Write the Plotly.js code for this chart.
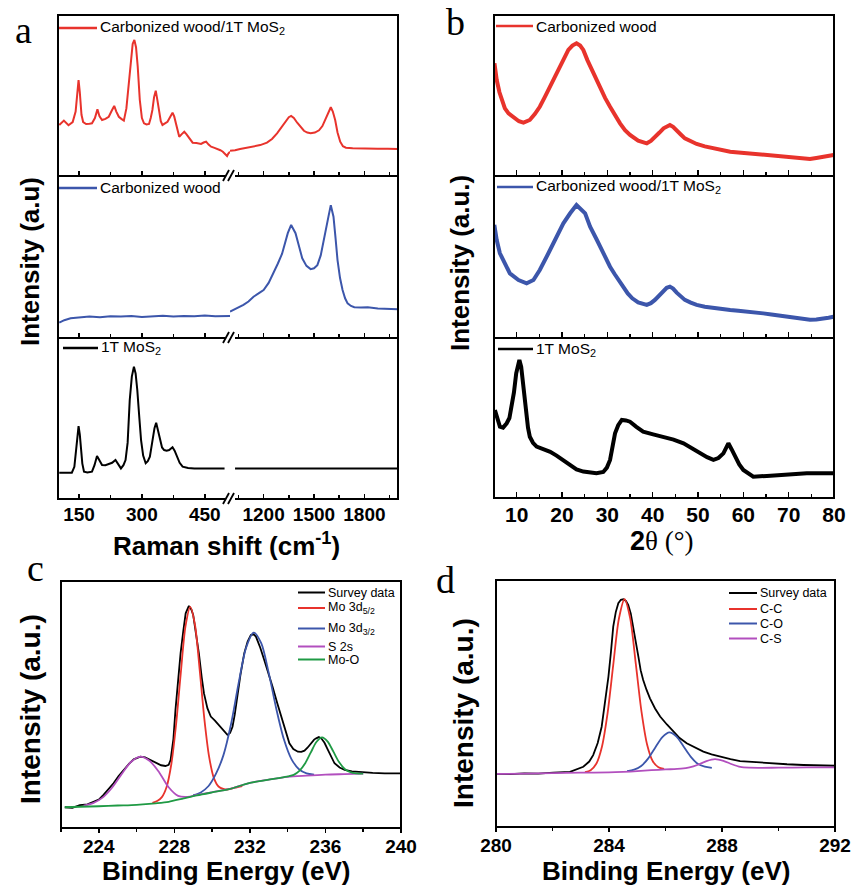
<!DOCTYPE html>
<html><head><meta charset="utf-8">
<script src="https://cdn.plot.ly/plotly-3.0.1.min.js"></script>
<style>html,body{margin:0;padding:0;background:#fff}</style>
</head><body><div id="chart" style="width:855px;height:886px"></div>
<script>
// ---------------- DATA ----------------
// Panel a : Raman (x = Raman shift cm-1, y = intensity a.u.), broken axis
const aLowTicks = [150, 300, 450];
const aLowMinor = [225, 375];
const aHighTicks = [1200, 1500, 1800];
const aHighMinor = [1050, 1350, 1650, 1950];

const ramanCwMosLow = [[103,31.7],[114,34.4],[125,31.5],[135,33.5],[142,40],[146,52],[149,59.6],[152,52],[156,38],[160,33.5],[167,32.3],[175,32.5],[181,32.7],[188,36],[194,41.4],[199,37],[205,34.8],[213,35.5],[221,36.8],[228,40.5],[234,43.5],[239,40],[245,36.8],[251,35.5],[257,34.4],[263,42],[269,59.6],[274,74],[278,82],[282,84.5],[286,80],[290,68],[295,47.2],[300,36],[305,32.7],[311,32],[317,32.3],[321,36],[325,41],[329,49],[333,53],[337,47],[341,41],[345,34],[349,31.7],[355,33],[361,33.7],[367,36.5],[373,39.3],[377,37],[381,32.7],[385,28],[389,24.4],[395,26],[401,27.5],[406,26],[410,24.4],[416,22],[421,20.7],[430,20.5],[441,19.9],[447,20.8],[453,21.3],[459,19.5],[465,18.2],[473,17.5],[481,16.8],[487,16],[493,15.1],[498,14],[503,12.4],[506,14],[510,15.1]];
const ramanCwMosHigh = [[1000,15.7],[1030,16.0],[1060,16.8],[1100,17.5],[1140,18.2],[1180,19.2],[1220,20.7],[1250,23],[1280,26.5],[1305,30],[1330,33.7],[1350,36.5],[1364,37.3],[1380,36],[1400,33.1],[1420,30.5],[1440,28.1],[1460,27],[1480,26.5],[1505,27],[1530,28.4],[1550,31],[1570,35.8],[1585,40],[1600,42.7],[1612,40],[1626,34.8],[1640,27],[1656,21.3],[1672,18.5],[1690,17.6],[1730,17.2],[1780,17],[1830,17.1],[1880,17],[1940,16.9],[2000,16.8]];
const ramanCwLow = [[103,9.5],[115,11.0],[130,12.2],[150,12.5],[175,13.2],[200,12.8],[225,13.4],[250,13.2],[275,13.6],[300,13.0],[325,13.5],[350,13.8],[375,13.2],[400,13.6],[425,13.4],[450,13.9],[475,13.5],[500,13.6],[510,13.6]];
const ramanCwHigh = [[1000,16.3],[1040,18.3],[1080,20.4],[1110,22.5],[1140,25.5],[1170,27.5],[1200,29.6],[1230,34],[1260,40],[1285,46],[1310,52],[1330,59],[1344,64.7],[1364,69.8],[1378,67.5],[1390,64.7],[1410,57],[1430,49.2],[1455,44.5],[1480,42.5],[1500,43],[1520,45],[1540,51],[1560,60.5],[1575,68],[1586,74.9],[1600,82],[1610,77],[1616,74.9],[1628,62],[1640,48.1],[1655,37],[1670,29.6],[1685,24.5],[1700,21.4],[1720,19.8],[1740,19],[1780,18.8],[1820,19],[1880,18.2],[1940,17.9],[2000,17.7]];
const ramanMosLow = [[103,16.3],[120,16.3],[133,16.3],[139,20],[143,30.4],[146,40],[149,45.3],[152,40],[155,30.4],[158,22],[162,17],[170,16.5],[181,17],[187,21],[193,26.7],[198,24],[205,21.1],[213,21],[221,21.7],[229,22.5],[237,24.2],[244,21.5],[250,19],[256,21],[261,24.2],[266,35],[271,61.5],[276,76],[281,82.2],[285,78],[289,67.7],[294,50],[298,36.6],[303,27],[309,22.2],[314,23.5],[319,26.3],[325,36],[330,44],[334,47.4],[338,43],[343,36.6],[348,32],[353,30.4],[359,30],[365,30.4],[369,31.5],[373,32.1],[378,30],[383,26.3],[390,22.5],[397,20.1],[410,19.3],[425,19],[450,19],[475,19],[497,19]];
const ramanMosHigh = [[1030,19],[1200,19],[1400,19],[1600,19],[1800,19],[2000,19]];

// Panel b : XRD (x = 2theta deg)
const bTicks = [10, 20, 30, 40, 50, 60, 70, 80];
const bMinor = [5, 15, 25, 35, 45, 55, 65, 75];
const xrdCw = [[5.1,70],[5.6,59.6],[6.2,52],[6.7,47.2],[7.4,42],[8.2,38.9],[9.6,35.8],[10.5,34],[11.5,33.1],[12.2,33.8],[12.9,34.8],[14,38.5],[15.1,43],[16.2,49],[17.4,55.5],[18.5,61.5],[19.6,67.9],[20.5,73.5],[21.4,78.3],[22.3,81],[23.2,82.4],[24,81],[24.7,78.3],[25.6,72],[26.6,65.8],[27.5,60],[28.4,54.5],[29.5,48.5],[30.6,43],[31.7,37.5],[32.8,32.7],[33.9,28.5],[35,25.5],[36.8,21.9],[38.7,20.3],[39.6,21.8],[40.5,24],[41.5,27],[42.4,29.6],[43.1,31],[43.8,31.7],[44.5,30.5],[45.3,28.6],[46.2,25.8],[47.1,23.4],[48.4,21.5],[49.7,19.9],[51.5,18.4],[53.4,17.2],[55.2,16.1],[57.1,15.1],[58.9,14.6],[60.7,14.1],[62.5,13.8],[64.4,13.5],[66.2,13],[68.1,12.4],[70,11.7],[71.8,11],[73.2,10.8],[74.7,10.6],[76.1,11.2],[77.6,12],[78.8,12.3],[79.9,13]];
const xrdCwMos = [[5.07,69.8],[5.6,60.5],[6.3,52.3],[7.4,46.1],[8.5,39.9],[10.4,35.8],[12.2,33.8],[13.7,35.8],[15.1,42],[17,52.3],[18.8,62.5],[20.3,70.8],[21.8,77],[23.2,82.1],[25.1,77],[26.2,68.7],[27.7,60.5],[29.1,52.3],[30.6,44],[31.6,39.5],[32.6,35],[33.5,31],[34.5,27.5],[35.5,24.5],[36.8,22],[38.7,20.4],[39.6,21.5],[40.5,23.5],[41.5,26.5],[42.4,29],[43.1,31],[43.8,31.7],[44.5,30.5],[45.3,28],[46.2,25.5],[47.1,23.5],[48.4,21.8],[49.7,20.4],[51.5,19.3],[53.4,18.5],[55.2,17.8],[57.1,17.3],[58.9,16.8],[60.7,16.4],[62.5,15.8],[64.4,15.2],[66.2,14.5],[68.1,13.7],[70,13],[71.8,12.2],[73.2,11.7],[74.7,11.3],[76.1,11.4],[77.6,11.8],[78.8,12.5],[79.9,13.1]];
const xrdMos = [[5.2,55],[5.7,50],[6.3,44.6],[7,44],[7.8,46.7],[8.4,50],[8.9,57],[9.4,66],[9.9,77.9],[10.3,84],[10.6,86.3],[11,82],[11.3,73.8],[11.7,62],[12.1,52.9],[12.5,44],[12.9,38.3],[13.6,34.5],[14.4,32.1],[15.9,30.5],[17.4,28.9],[18.8,26.5],[20.3,23.8],[21.7,21],[23.2,17.9],[24.7,16.5],[26.2,15.8],[27.6,15.5],[29.1,16.3],[29.9,19],[30.6,23.8],[31.2,32],[31.7,40.4],[32.4,45.5],[33.2,48.8],[34.1,48.5],[35,47.7],[36.4,44.5],[37.9,41.5],[40.1,39.8],[42.4,38.3],[44.6,36.5],[46.8,34.2],[48.7,31],[50.5,27.9],[52,25.5],[53.4,23.8],[54.5,25],[55.6,27.9],[56.2,31.5],[56.7,34.2],[57.4,30.5],[58.2,25.8],[59.1,21],[60,17.5],[61.1,15],[62.2,13.3],[65.2,13.8],[68.1,14.4],[71,14.9],[74,15.4],[77,15.4],[79.9,15.4]];

// Panel c : Mo 3d XPS (x = binding energy eV)
const cTicks = [224, 228, 232, 236, 240];
const cMinor = [222, 226, 230, 234, 238];
const cSurvey = [[222.2,8.4],[222.6,8.2],[223.0,9.3],[223.4,9.6],[223.72,10.6],[224.0,11.5],[224.25,13.4],[224.5,15.5],[224.78,18.1],[225.05,21],[225.31,23.5],[225.6,26],[225.85,27.8],[226.2,28.9],[226.45,28.6],[226.65,27.8],[226.9,26.8],[227.09,25.9],[227.3,25.4],[227.53,25.1],[227.7,25.6],[227.8,27.5],[227.95,36],[228.06,47.8],[228.2,60],[228.33,70.7],[228.47,79.5],[228.6,86.9],[228.77,89.9],[228.9,88.5],[229.0,86.2],[229.15,79],[229.3,70.7],[229.45,61],[229.57,54.5],[229.75,48.5],[229.93,45.1],[230.15,43.5],[230.37,41.7],[230.6,39.5],[230.81,37.7],[230.95,38.5],[231.08,41],[231.2,46],[231.34,54.5],[231.5,62],[231.7,70.7],[231.88,75.5],[232.05,78.1],[232.2,78.4],[232.32,77.5],[232.55,73],[232.76,68],[233.0,62.5],[233.2,57.2],[233.45,50.5],[233.65,45.1],[233.9,38.5],[234.09,34.3],[234.3,32],[234.54,30.9],[234.72,30.8],[234.89,31.3],[235.05,32.5],[235.24,34.3],[235.4,35.8],[235.51,36.3],[235.65,36.8],[235.78,36.3],[235.95,34.5],[236.13,31.6],[236.3,28.8],[236.48,26.2],[236.75,24.5],[237.02,23.5],[237.4,22.9],[237.9,22.5],[238.5,22.3],[239.14,22.1],[239.6,22.2],[240,22.1]];
const cMo3d52 = [[226.84,10.2],[227.09,10.9],[227.34,12.5],[227.59,16.6],[227.84,25.8],[228.09,41.7],[228.34,62.6],[228.59,81.6],[228.84,89.5],[229.09,82.4],[229.34,64.2],[229.59,44.1],[229.84,28.9],[230.09,20.3],[230.34,16.8],[230.59,15.8],[230.84,15.6],[231.2,16.3],[231.6,17.0]];
const cMo3d32 = [[229.0,13.3],[229.4,14.4],[229.8,16.9],[230.2,21.9],[230.6,29.5],[231.0,42],[231.4,58.5],[231.8,73],[232.2,79.1],[232.6,74.8],[233.0,62.7],[233.4,48.2],[233.8,35.9],[234.2,27.9],[234.6,23.8],[235.0,22.1],[235.4,21.6]];
const cS2s = [[223.2,9.1],[223.7,10.1],[224.2,12.3],[224.7,16.3],[225.2,21.7],[225.7,26.7],[226.2,28.9],[226.7,27.1],[227.2,22.5],[227.7,16.5],[228.2,13.0],[228.7,12.6],[229.2,13.4],[229.7,14.1],[231.0,15.9],[232.0,18.3],[233.0,19.6],[234.0,20.7],[235.0,21.2],[236.0,21.6],[237.0,21.8],[238.0,22.0]];
const cMoO = [[222.2,8.4],[223.0,8.6],[224.0,8.8],[225.0,9.1],[226.0,9.4],[227.0,10.0],[227.7,10.6],[228.5,12.0],[229.2,13.2],[230.0,14.4],[230.9,15.7],[231.9,18.1],[232.7,19.2],[233.5,20.2],[234.02,20.9],[234.32,21.5],[234.62,23.1],[234.92,26.1],[235.22,30.5],[235.52,34.8],[235.82,36.7],[236.12,35.0],[236.42,30.9],[236.72,26.7],[237.02,23.9],[237.32,22.6],[237.62,22.1],[238.0,22.0]];

// Panel d : C 1s XPS
const dTicks = [280, 284, 288, 292];
const dMinor = [282, 286, 290];
const dSurvey = [[280,21.5],[280.5,21.4],[281,21.7],[281.5,21.6],[282.03,22],[282.62,22.3],[283.09,24.4],[283.3,26.5],[283.44,29.1],[283.6,34],[283.74,40.6],[283.86,50],[283.98,60.9],[284.07,71],[284.15,81.1],[284.24,87],[284.33,90.6],[284.42,92],[284.51,92.2],[284.6,91.5],[284.68,89.9],[284.77,86.5],[284.86,81.1],[284.95,75],[285.04,69],[285.12,63.5],[285.21,59.5],[285.33,55.5],[285.45,52.1],[285.63,48],[285.81,44.7],[286.05,41.5],[286.28,38.6],[286.5,36],[286.75,33.9],[287.05,32],[287.34,30.5],[287.63,29.4],[287.93,28.5],[288.3,27.5],[288.64,26.7],[289.2,26.2],[289.7,25.8],[290.3,25.4],[290.88,25.1],[291.4,25.0],[292,24.8]];
const dCC = [[283.15,22.2],[283.35,23.0],[283.55,25.6],[283.75,32.5],[283.95,46.1],[284.15,65.6],[284.35,84.3],[284.55,92.2],[284.75,84.5],[284.95,65.9],[285.15,46.7],[285.35,33.3],[285.55,26.6],[285.75,24.2],[285.95,23.5]];
const dCO = [[284.64,22.6],[284.89,23.2],[285.14,24.7],[285.39,27.8],[285.64,32.2],[285.89,36.4],[286.14,38.3],[286.39,36.6],[286.64,32.6],[286.89,28.5],[287.14,25.6],[287.39,24.4],[287.64,23.9]];
const dCS = [[280,21.5],[281,21.6],[282,21.8],[283,22.0],[284,22.1],[284.5,22.3],[285,22.6],[285.5,23.0],[286,23.3],[286.55,23.6],[286.85,24.1],[287.15,25.2],[287.45,26.7],[287.75,27.5],[288.05,26.8],[288.35,25.4],[288.65,24.3],[288.95,24.0],[290,24.0],[291,24.1],[292,24.1]];

// ---------------- LAYOUT HELPERS ----------------
const W = 855, H = 886;
const fx = p => p / W;
const fy = p => 1 - p / H;
const RED = '#e8332c', BLUE = '#3c56ab', BLACK = '#000000', PURPLE = '#b24fbe', GREEN = '#1f9a44';
const SANS = '"Liberation Sans", Arial, sans-serif';
const SERIF = '"Liberation Serif", "Times New Roman", serif';

const layout = {
  width: W, height: H, margin: {l:0, r:0, t:0, b:0},
  paper_bgcolor: '#ffffff', plot_bgcolor: 'rgba(0,0,0,0)', showlegend: false,
  font: {family: SANS, color: '#000'}, shapes: [], annotations: []
};
const nm = (p, id) => id === 1 ? p : p + id;

function xAxis(id, x0, x1, yid, range, major, minor, o) {
  layout[nm('xaxis', id)] = {
    domain: [fx(x0), fx(x1)], anchor: nm('y', yid), range: range,
    tickmode: 'array', tickvals: major, ticktext: major.map(String),
    ticks: o.ticks, ticklen: o.len, tickwidth: 1.5, tickcolor: '#000',
    minor: {tickmode: 'array', tickvals: minor, ticks: o.ticks, ticklen: o.minorLen, tickwidth: 1.5, tickcolor: '#000', showgrid: false},
    showticklabels: o.labels, tickfont: {family: SANS, size: o.fontSize, weight: 'bold', color: '#000'},
    ticklabelstandoff: o.standoff || 0,
    showline: false, showgrid: false, zeroline: false, fixedrange: true
  };
}
function yAxis(id, y0, y1, xid) {
  layout[nm('yaxis', id)] = {
    domain: [fy(y1), fy(y0)], anchor: nm('x', xid), range: [0, 100],
    showticklabels: false, ticks: '', showgrid: false, zeroline: false, showline: false, fixedrange: true
  };
}
const traces = [];
function addLine(pairs, xid, yid, color, width, smooth) {
  traces.push({
    type: 'scatter', mode: 'lines', x: pairs.map(p => p[0]), y: pairs.map(p => p[1]),
    xaxis: nm('x', xid), yaxis: nm('y', yid), hoverinfo: 'skip',
    line: smooth ? {color: color, width: width, shape: 'spline', smoothing: 0.8} : {color: color, width: width}
  });
}
function rect(x0, y0, x1, y1) {
  layout.shapes.push({type: 'rect', xref: 'paper', yref: 'paper', x0: fx(x0), x1: fx(x1), y0: fy(y0), y1: fy(y1), line: {color: '#000', width: 2}, fillcolor: 'rgba(0,0,0,0)', layer: 'above'});
}
function seg(x0, y0, x1, y1, color, width) {
  layout.shapes.push({type: 'line', xref: 'paper', yref: 'paper', x0: fx(x0), x1: fx(x1), y0: fy(y0), y1: fy(y1), line: {color: color, width: width}, layer: 'above'});
}
function text(x, y, t, size, o) {
  o = o || {};
  layout.annotations.push({
    xref: 'paper', yref: 'paper', x: fx(x), y: fy(y), text: t, showarrow: false,
    xanchor: o.xanchor || 'left', yanchor: o.yanchor || 'middle', textangle: o.angle || 0,
    font: {family: o.family || SANS, size: size, color: '#000', weight: o.weight || 'normal'}
  });
}

// ---------------- PANEL a ----------------
const rowsA = [[15, 176], [176, 338], [338, 499]];
const aSeries = [[ramanCwMosLow, ramanCwMosHigh, RED], [ramanCwLow, ramanCwHigh, BLUE], [ramanMosLow, ramanMosHigh, BLACK]];
rowsA.forEach((r, i) => {
  const xl = 2 * i + 1, xr = 2 * i + 2, yid = i + 1;
  const o = {ticks: 'inside', len: 5, minorLen: 4, labels: i === 2, fontSize: 19, standoff: 2};
  xAxis(xl, 58, 230, yid, [100, 510], aLowTicks, aLowMinor, o);
  xAxis(xr, 230, 398, yid, [1000, 2000], aHighTicks, aHighMinor, o);
  yAxis(yid, r[0], r[1], xl);
  addLine(aSeries[i][0], xl, yid, aSeries[i][2], 2);
  addLine(aSeries[i][1], xr, yid, aSeries[i][2], 2);
});
rect(58, 15, 398, 499);
seg(58, 176, 398, 176, '#000', 2);
seg(58, 338, 398, 338, '#000', 2);
[176, 338, 499].forEach(y => {
  seg(225, y, 235, y, '#fff', 4);
  seg(223, y + 5, 229, y - 6, '#000', 1.8);
  seg(228, y + 5, 234, y - 6, '#000', 1.8);
});

// ---------------- PANEL b ----------------
const rowsB = [[15, 176], [176, 338], [338, 498]];
const bSeries = [[xrdCw, RED], [xrdCwMos, BLUE], [xrdMos, BLACK]];
rowsB.forEach((r, i) => {
  const xid = 7 + i, yid = 4 + i;
  xAxis(xid, 494, 834, yid, [5, 80], bTicks, bMinor, {ticks: 'inside', len: 6, minorLen: 4, labels: i === 2, fontSize: 21, standoff: 2});
  yAxis(yid, r[0], r[1], xid);
  addLine(bSeries[i][0], xid, yid, bSeries[i][1], 4);
});
rect(494, 15, 834, 498);
seg(494, 176, 834, 176, '#000', 2);
seg(494, 338, 834, 338, '#000', 2);

// ---------------- PANEL c ----------------
xAxis(10, 61, 401, 7, [222, 240], cTicks, cMinor, {ticks: 'outside', len: 4, minorLen: 3, labels: true, fontSize: 19, standoff: -3});
yAxis(7, 581, 828, 10);
addLine(cSurvey, 10, 7, BLACK, 1.8);
addLine(cMo3d52, 10, 7, RED, 1.8, true);
addLine(cMo3d32, 10, 7, BLUE, 1.8, true);
addLine(cS2s, 10, 7, PURPLE, 1.8, true);
addLine(cMoO, 10, 7, GREEN, 1.8, true);
rect(61, 581, 401, 828);

// ---------------- PANEL d ----------------
xAxis(11, 496, 835, 8, [280, 292], dTicks, dMinor, {ticks: 'outside', len: 4, minorLen: 3, labels: true, fontSize: 19, standoff: -3});
yAxis(8, 580, 827, 11);
addLine(dSurvey, 11, 8, BLACK, 1.8);
addLine(dCC, 11, 8, RED, 1.8, true);
addLine(dCO, 11, 8, BLUE, 1.8, true);
addLine(dCS, 11, 8, PURPLE, 1.8, true);
rect(496, 580, 835, 827);

// ---------------- LEGENDS ----------------
const legA = [[59, 97, 28, RED, 'Carbonized wood/1T MoS<sub>2</sub>'], [59, 97, 188, BLUE, 'Carbonized wood'], [63, 98, 348, BLACK, '1T MoS<sub>2</sub>']];
const legB = [[496, 533, 26, RED, 'Carbonized wood'], [497, 533, 187, BLUE, 'Carbonized wood/1T MoS<sub>2</sub>'], [498, 533, 349, BLACK, '1T MoS<sub>2</sub>']];
legA.concat(legB).forEach(l => { seg(l[0], l[2], l[1], l[2], l[3], 2.5); text(l[1] + 1, l[2], l[4], 15.5); });
const legC = [[592.5, BLACK, 'Survey data'], [608, RED, 'Mo 3d<sub>5/2</sub>'], [628.5, BLUE, 'Mo 3d<sub>3/2</sub>'], [646.5, PURPLE, 'S 2s'], [659.5, GREEN, 'Mo-O']];
legC.forEach(l => { seg(298, l[0], 325, l[0], l[1], 2); text(326, l[0], l[2], 12.5); });
const legD = [[593, BLACK, 'Survey data'], [609, RED, 'C-C'], [623.5, BLUE, 'C-O'], [638.5, PURPLE, 'C-S']];
legD.forEach(l => { seg(729, l[0], 757, l[0], l[1], 2); text(758, l[0], l[2], 12.5); });

// ---------------- TITLES & LETTERS ----------------
text(23, 30, 'a', 38, {xanchor: 'center', family: SERIF});
text(455, 22, 'b', 38, {xanchor: 'center', family: SERIF});
text(35, 568, 'c', 38, {xanchor: 'center', family: SERIF});
text(445, 580, 'd', 38, {xanchor: 'center', family: SERIF});

text(30, 262, 'Intensity (a.u)', 26, {xanchor: 'center', angle: -90, weight: 'bold'});
text(460, 263, 'Intensity (a.u.)', 26, {xanchor: 'center', angle: -90, weight: 'bold'});
text(30, 709, 'Intensity (a.u.)', 28, {xanchor: 'center', angle: -90, weight: 'bold'});
text(463, 713, 'Intensity (a.u.)', 28, {xanchor: 'center', angle: -90, weight: 'bold'});

text(227, 544, 'Raman shift (cm<sup>-1</sup>)', 26, {xanchor: 'center', weight: 'bold'});
text(662, 541, '2<span style="font-family:Liberation Serif;font-weight:normal">θ (°)</span>', 27, {xanchor: 'center', weight: 'bold'});
text(226, 871, 'Binding Energy (eV)', 26, {xanchor: 'center', weight: 'bold'});
text(666, 871, 'Binding Energy (eV)', 26, {xanchor: 'center', weight: 'bold'});

Plotly.newPlot('chart', traces, layout, {staticPlot: true, displayModeBar: false});
</script></body></html>
